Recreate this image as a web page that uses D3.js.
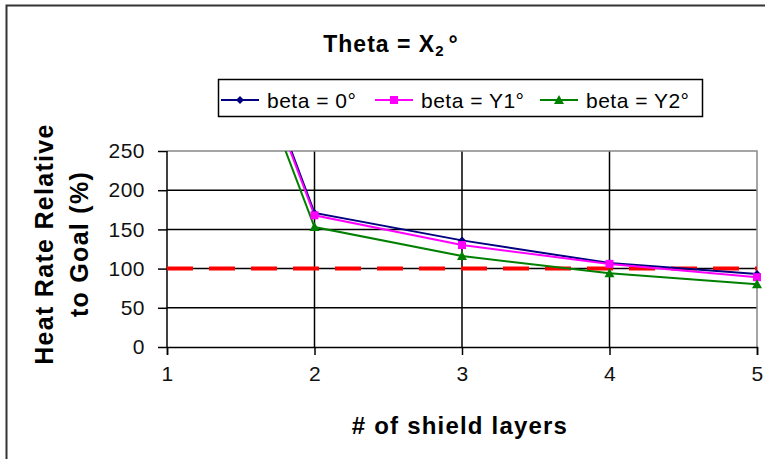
<!DOCTYPE html>
<html>
<head>
<meta charset="utf-8">
<script src="https://cdn.jsdelivr.net/npm/d3@7"></script>
<style>
  body { margin: 0; background: #fff; }
  svg { display: block; font-family: "Liberation Sans", Arial, sans-serif; }
</style>
</head>
<body>
<svg id="chart" width="765" height="459"></svg>
<script>
// shield layer counts on the x axis
const layers = [1, 2, 3, 4, 5];
// heat rate relative to goal (%) for each beta
const beta0 = [675, 171, 136, 107, 93];
const betaY1 = [668, 168, 130, 106, 89];
const betaY2 = [648, 153, 116, 94, 80];
const goal = [100, 100, 100, 100, 100];
const yTicks = [0, 50, 100, 150, 200, 250];

const series = [
  { name: 'beta = 0\u00b0', values: beta0, color: '#000080', marker: 'diamond' },
  { name: 'beta = Y1\u00b0', values: betaY1, color: '#ff00ff', marker: 'square' },
  { name: 'beta = Y2\u00b0', values: betaY2, color: '#008000', marker: 'triangle' }
];

const svg = d3.select('#chart');
const plot = { left: 167, right: 757, top: 151, bottom: 347 };

const x = d3.scaleLinear().domain([1, 5]).range([plot.left, plot.right]);
const y = d3.scaleLinear().domain([0, 250]).range([plot.bottom, plot.top]);

// outer chart border (only top and left visible)
svg.append('rect')
  .attr('x', 6.5).attr('y', 5.5).attr('width', 800).attr('height', 500)
  .attr('fill', 'none').attr('stroke', '#333').attr('stroke-width', 2);

// title
const title = svg.append('text')
  .attr('x', 391).attr('y', 52)
  .attr('text-anchor', 'middle')
  .attr('font-size', 23).attr('font-weight', 'bold').attr('letter-spacing', 1);
title.append('tspan').text('Theta = X');
title.append('tspan').attr('font-size', 15).attr('dy', 4).text('2');
title.append('tspan').attr('dy', -4).attr('dx', 4).text('\u00b0');

// gridlines
svg.append('g')
  .selectAll('line.h')
  .data(yTicks.slice(1, -1))
  .join('line')
  .attr('x1', plot.left).attr('x2', plot.right)
  .attr('y1', d => y(d)).attr('y2', d => y(d))
  .attr('stroke', '#000').attr('stroke-width', 1.5);

svg.append('g')
  .selectAll('line.v')
  .data(layers.slice(1, -1))
  .join('line')
  .attr('x1', d => x(d)).attr('x2', d => x(d))
  .attr('y1', plot.top).attr('y2', plot.bottom)
  .attr('stroke', '#000').attr('stroke-width', 1.5);

// plot border top/right in gray
svg.append('path')
  .attr('d', `M${plot.left},${plot.top}H${plot.right}V${plot.bottom}`)
  .attr('fill', 'none').attr('stroke', '#888').attr('stroke-width', 1.5);

// axes
const yAxis = svg.append('g')
  .attr('transform', `translate(${plot.left},0)`)
  .call(d3.axisLeft(y).tickValues(yTicks).tickSize(9).tickPadding(13));
const xAxis = svg.append('g')
  .attr('transform', `translate(0,${plot.bottom})`)
  .call(d3.axisBottom(x).tickValues(layers).tickFormat(d3.format('d')).tickSize(8).tickPadding(11));

[yAxis, xAxis].forEach(ax => {
  ax.select('.domain').attr('stroke', '#000').attr('stroke-width', 1.5);
  ax.selectAll('.tick line').attr('stroke', '#000').attr('stroke-width', 1.5);
  ax.selectAll('.tick text')
    .attr('font-size', 21).attr('fill', '#111').attr('letter-spacing', 0.5)
    .attr('font-family', '"Liberation Sans", Arial, sans-serif');
});
yAxis.select('.domain').attr('d', `M0,${plot.top}V${plot.bottom}`);

// clip region for the data
svg.append('clipPath').attr('id', 'clip')
  .append('rect')
  .attr('x', plot.left).attr('y', plot.top)
  .attr('width', plot.right - plot.left + 10).attr('height', plot.bottom - plot.top);

const line = d3.line().x((d, i) => x(layers[i])).y(d => y(d));
const data = svg.append('g').attr('clip-path', 'url(#clip)');

// goal line
data.append('path')
  .attr('d', line(goal))
  .attr('fill', 'none').attr('stroke', '#ff0000')
  .attr('stroke-width', 4).attr('stroke-dasharray', '26,16');

function marker(g, type, color, cx, cy) {
  if (type === 'diamond') {
    g.append('path').attr('d', `M${cx},${cy - 4}L${cx + 4},${cy}L${cx},${cy + 4}L${cx - 4},${cy}Z`)
      .attr('fill', color);
  } else if (type === 'square') {
    g.append('rect').attr('x', cx - 4).attr('y', cy - 4).attr('width', 8).attr('height', 8)
      .attr('fill', color);
  } else {
    g.append('path').attr('d', `M${cx},${cy - 5}L${cx + 5},${cy + 4}L${cx - 5},${cy + 4}Z`)
      .attr('fill', color);
  }
}

series.forEach(s => {
  data.append('path')
    .attr('d', line(s.values))
    .attr('fill', 'none').attr('stroke', s.color).attr('stroke-width', 2);
});
series.forEach(s => {
  s.values.forEach((v, i) => {
    if (v <= 250) marker(data, s.marker, s.color, x(layers[i]), y(v));
  });
});

// legend
const legend = svg.append('g');
legend.append('rect')
  .attr('x', 218.5).attr('y', 79.5).attr('width', 484).attr('height', 37)
  .attr('fill', '#fff').attr('stroke', '#000').attr('stroke-width', 1.5);
const legendX = [221, 375, 540];
series.forEach((s, i) => {
  const lx = legendX[i];
  const g = legend.append('g');
  g.append('line')
    .attr('x1', lx).attr('x2', lx + 38).attr('y1', 100).attr('y2', 100)
    .attr('stroke', s.color).attr('stroke-width', 2);
  marker(g, s.marker, s.color, lx + 19, 100);
  g.append('text')
    .attr('x', lx + 46).attr('y', 108)
    .attr('font-size', 21).attr('letter-spacing', 0.5)
    .text(s.name);
});

// axis titles
svg.append('text')
  .attr('x', 460).attr('y', 434)
  .attr('text-anchor', 'middle')
  .attr('font-size', 24).attr('font-weight', 'bold').attr('letter-spacing', 1.2)
  .text('# of shield layers');

const yTitle = svg.append('text')
  .attr('transform', 'translate(53,244) rotate(-90)')
  .attr('text-anchor', 'middle')
  .attr('font-size', 25).attr('font-weight', 'bold').attr('letter-spacing', 1.3);
yTitle.append('tspan').attr('x', 0).attr('dy', 0).text('Heat Rate Relative');
yTitle.append('tspan').attr('x', 0).attr('dy', 35).text('to Goal (%)');
</script>
</body>
</html>
